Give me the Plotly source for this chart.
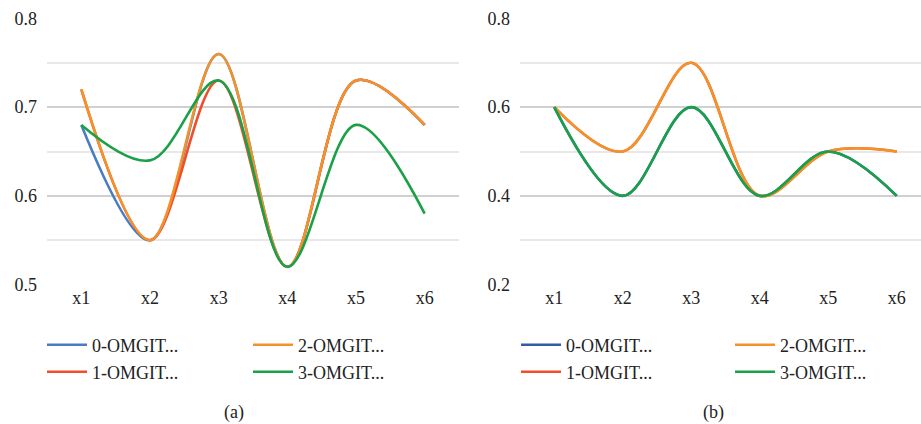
import plotly.graph_objects as go

W, H = 921, 424

categories = ["x1", "x2", "x3", "x4", "x5", "x6"]
series_names = ["0-OMGIT...", "1-OMGIT...", "2-OMGIT...", "3-OMGIT..."]

# Panel (a)
a_s0 = [0.68, 0.55, 0.76, 0.52, 0.73, 0.68]
a_s1 = [0.72, 0.55, 0.73, 0.52, 0.73, 0.68]
a_s2 = [0.72, 0.55, 0.76, 0.52, 0.73, 0.68]
a_s3 = [0.68, 0.64, 0.73, 0.52, 0.68, 0.58]

# Panel (b)
b_s0 = [0.60, 0.40, 0.60, 0.40, 0.50, 0.40]
b_s1 = [0.60, 0.50, 0.70, 0.40, 0.50, 0.50]
b_s2 = [0.60, 0.50, 0.70, 0.40, 0.50, 0.50]
b_s3 = [0.60, 0.40, 0.60, 0.40, 0.50, 0.40]

colors_a = ["#4A7CC4", "#F04E2A", "#F4922A", "#1AA047"]
colors_b = ["#2F5DA8", "#F04E2A", "#F4922A", "#1AA047"]

FONT = "Liberation Serif"
TXT = "#222222"

def px_x(p):
    return p / W

def px_y(p):
    return 1 - p / H

fig = go.Figure()

# legend rows: row1 holds series 0 and 2, row2 holds 1 and 3
row_of = {0: 0, 1: 1, 2: 0, 3: 1}
legend_ids_a = ["legend", "legend2"]
legend_ids_b = ["legend3", "legend4"]

for i, vals in enumerate([a_s0, a_s1, a_s2, a_s3]):
    fig.add_trace(go.Scatter(
        x=categories, y=vals, name=series_names[i], mode="lines",
        line=dict(color=colors_a[i], width=2.6, shape="spline", smoothing=1.0),
        xaxis="x", yaxis="y", legend=legend_ids_a[row_of[i]],
    ))

for i, vals in enumerate([b_s0, b_s1, b_s2, b_s3]):
    fig.add_trace(go.Scatter(
        x=categories, y=vals, name=series_names[i], mode="lines",
        line=dict(color=colors_b[i], width=2.6, shape="spline", smoothing=1.0),
        xaxis="x2", yaxis="y2", legend=legend_ids_b[row_of[i]],
    ))

ydom = [px_y(285), px_y(18)]

common_x = dict(
    type="category", showgrid=False, zeroline=False, showline=False,
    ticks="", tickfont=dict(family=FONT, size=18, color=TXT),
    fixedrange=True, automargin=False,
)
common_y = dict(
    showline=False, zeroline=False, ticks="",
    gridcolor="#D0D0D0", gridwidth=1.5,
    tickfont=dict(family=FONT, size=18, color=TXT),
    ticklabelstandoff=9, automargin=False,
)

fig.update_layout(
    width=W, height=H,
    margin=dict(l=0, r=0, t=0, b=0, autoexpand=False),
    paper_bgcolor="white", plot_bgcolor="white",
    xaxis=dict(domain=[px_x(47), px_x(459)], range=[-0.5, 5.5], anchor="y", **common_x),
    yaxis=dict(domain=ydom, range=[0.4995, 0.8005], dtick=0.1, tick0=0.5,
               tickformat=".1f", anchor="x",
               minor=dict(dtick=0.05, tick0=0.5, showgrid=True, gridcolor="#E8E8E8", gridwidth=1.5),
               **common_y),
    xaxis2=dict(domain=[px_x(520), 1.0], range=[-0.5, 5.354], anchor="y2", **common_x),
    yaxis2=dict(domain=ydom, range=[0.199, 0.801], dtick=0.2, tick0=0.2,
                tickformat=".1f", anchor="x2",
                minor=dict(dtick=0.1, tick0=0.2, showgrid=True, gridcolor="#E8E8E8", gridwidth=1.5),
                **common_y),
    showlegend=True,
)

leg_common = dict(
    orientation="h", entrywidthmode="pixels", itemwidth=40,
    font=dict(family=FONT, size=18, color=TXT),
    bgcolor="rgba(0,0,0,0)", xanchor="left", yanchor="middle",
    itemclick=False, itemdoubleclick=False, traceorder="normal",
)
fig.update_layout(
    legend=dict(x=px_x(42), y=px_y(345), entrywidth=151, **leg_common),
    legend2=dict(x=px_x(42), y=px_y(372), entrywidth=151, **leg_common),
    legend3=dict(x=px_x(516), y=px_y(345), entrywidth=159, **leg_common),
    legend4=dict(x=px_x(516), y=px_y(372), entrywidth=159, **leg_common),
)

for label, cx in [("(a)", 234), ("(b)", 713)]:
    fig.add_annotation(
        text=label, x=px_x(cx), y=px_y(412), xref="paper", yref="paper",
        showarrow=False, xanchor="center", yanchor="middle",
        font=dict(family=FONT, size=18, color=TXT),
    )

fig.write_html(
    "out.html",
    config={"displayModeBar": False},
    post_script="document.body.style.margin='0';document.body.style.overflow='hidden';",
)
